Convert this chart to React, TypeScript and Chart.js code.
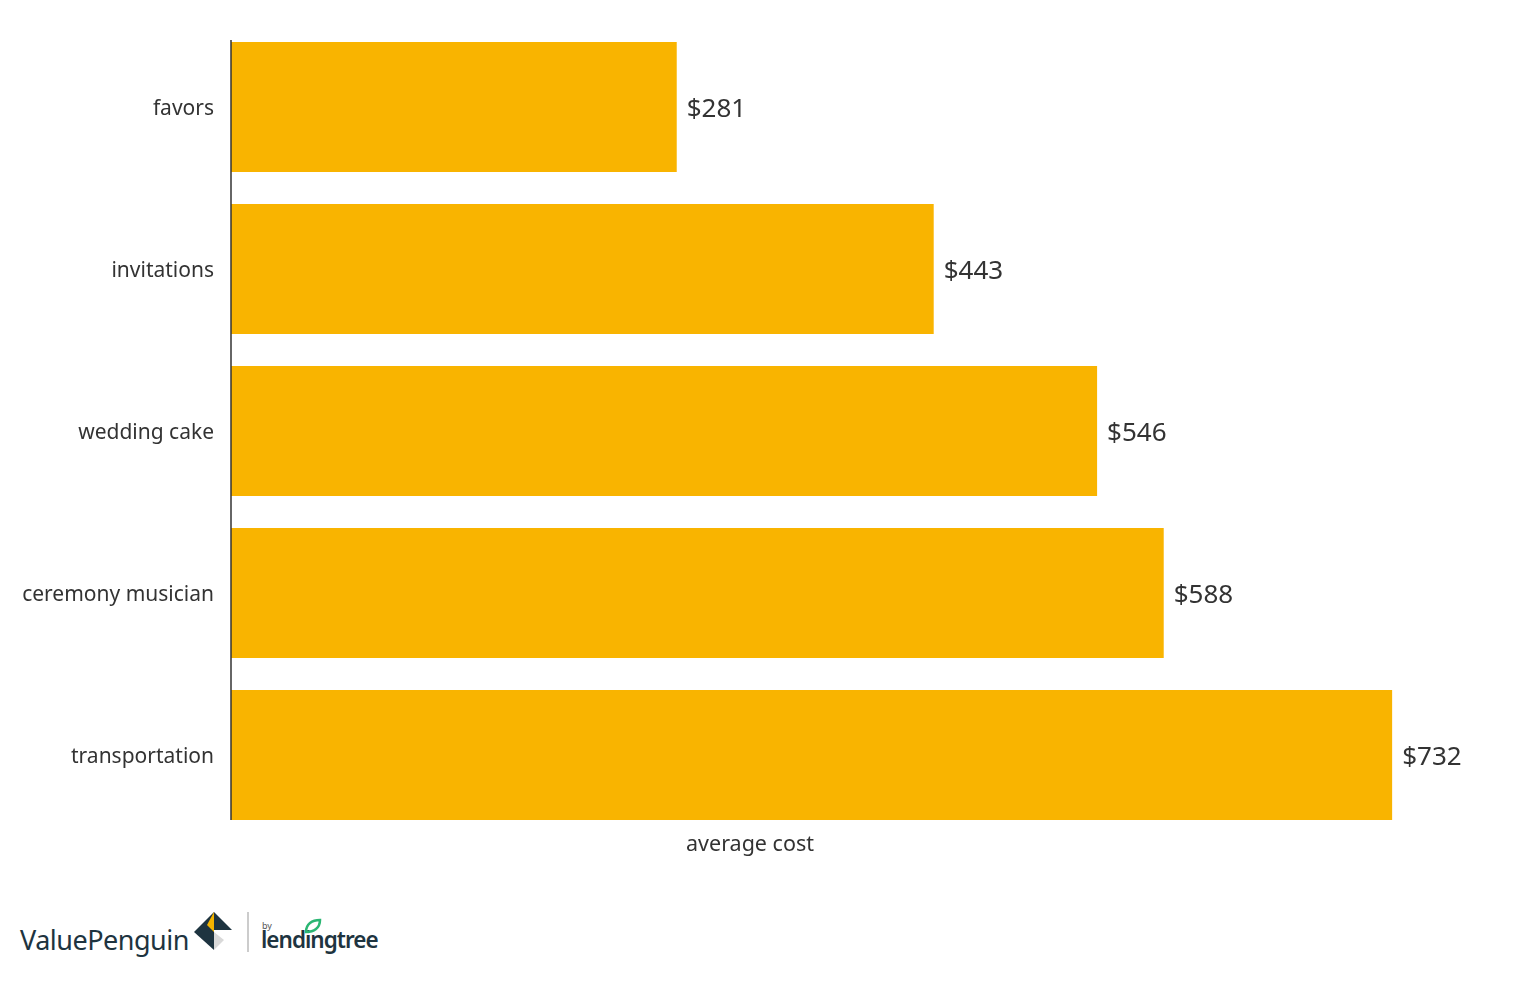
import React, { useEffect, useRef } from "react";
import { Chart, registerables } from "chart.js";

Chart.register(...registerables);

const categories = ["favors", "invitations", "wedding cake", "ceremony musician", "transportation"];
const averageCost = [281, 443, 546, 588, 732];
const axisTitle = "average cost";

const FONT = "'Noto Sans', 'DejaVu Sans', sans-serif";

const decorPlugin = {
  id: "decor",
  afterDatasetsDraw(chart: any) {
    const ctx = chart.ctx;
    const meta = chart.getDatasetMeta(0);
    const els = meta.data;
    if (!els.length) return;
    const first = els[0];
    const last = els[els.length - 1];
    const x0 = chart.chartArea.left;
    ctx.save();
    ctx.strokeStyle = "#333";
    ctx.lineWidth = 1.5;
    ctx.beginPath();
    ctx.moveTo(x0, first.y - first.height / 2 - 2);
    ctx.lineTo(x0, last.y + last.height / 2);
    ctx.stroke();
    ctx.fillStyle = "#333";
    ctx.font = `26px ${FONT}`;
    ctx.textAlign = "left";
    ctx.textBaseline = "middle";
    els.forEach((el: any, i: number) => {
      ctx.fillText("$" + averageCost[i], el.x + 10, el.y + 3);
    });
    ctx.font = `21.5px ${FONT}`;
    ctx.textAlign = "center";
    ctx.fillText(axisTitle, 750, 845);
    ctx.restore();
  },
};

export default function App() {
  const ref = useRef<HTMLCanvasElement | null>(null);
  useEffect(() => {
    if (!ref.current) return;
    const chart = new Chart(ref.current, {
      type: "bar",
      data: {
        labels: categories,
        datasets: [
          {
            data: averageCost,
            backgroundColor: "#F9B400",
            barPercentage: 0.8025,
            categoryPercentage: 1,
          },
        ],
      },
      options: {
        indexAxis: "y",
        animation: false,
        responsive: true,
        maintainAspectRatio: false,
        layout: { padding: { top: 26, bottom: 44, right: 20, left: 0 } },
        plugins: { legend: { display: false }, tooltip: { enabled: false } },
        scales: {
          x: { display: false, min: 0, max: 800 },
          y: {
            grid: { display: false, drawTicks: false },
            border: { display: false },
            ticks: { color: "#333", font: { size: 21, family: FONT }, padding: 17, labelOffset: 2 },
            afterFit: (s: any) => {
              s.width = 231;
              s.paddingTop = 0;
              s.paddingBottom = 0;
            },
          },
        },
      },
      plugins: [decorPlugin],
    });
    return () => chart.destroy();
  }, []);

  return (
    <div style={{ position: "fixed", left: 0, top: 0, width: 1520, height: 984, background: "#fff" }}>
      <div style={{ position: "absolute", left: 0, top: 0, width: 1520, height: 880 }}>
        <canvas ref={ref} />
      </div>
      <div
        style={{
          position: "absolute",
          left: 20,
          top: 922,
          fontFamily: FONT,
          fontSize: 27,
          color: "#1e3440",
          letterSpacing: -0.5,
          lineHeight: "36px",
        }}
      >
        ValuePenguin
      </div>
      <svg style={{ position: "absolute", left: 194, top: 912 }} width="40" height="40" viewBox="0 0 40 40">
        <polygon points="20,0 0,20 20,20" fill="#1e3440" />
        <polygon points="20,0 20,20 13,13" fill="#f4b400" />
        <polygon points="20,0 38,18 20,18" fill="#1e3440" />
        <polygon points="0,20 20,38 20,20" fill="#1e3440" />
        <polygon points="20,20 20,38 30,28" fill="#d9d9d9" />
      </svg>
      <div style={{ position: "absolute", left: 247, top: 912, width: 1.5, height: 40, background: "#ccc" }} />
      <div style={{ position: "absolute", left: 262, top: 919, fontFamily: FONT, fontSize: 9, color: "#555" }}>by</div>
      <div
        style={{
          position: "absolute",
          left: 261,
          top: 927,
          fontFamily: FONT,
          fontSize: 22.5,
          fontWeight: 600,
          color: "#1e3440",
          letterSpacing: -1,
          lineHeight: "26px",
        }}
      >
        lendingtree
      </div>
      <svg style={{ position: "absolute", left: 304, top: 918 }} width="18" height="16" viewBox="0 0 18 16">
        <path d="M2,14 C2,6 8,2 16,2 C16,10 10,14 2,14 Z" fill="none" stroke="#2bb673" strokeWidth="2.5" />
      </svg>
    </div>
  );
}
